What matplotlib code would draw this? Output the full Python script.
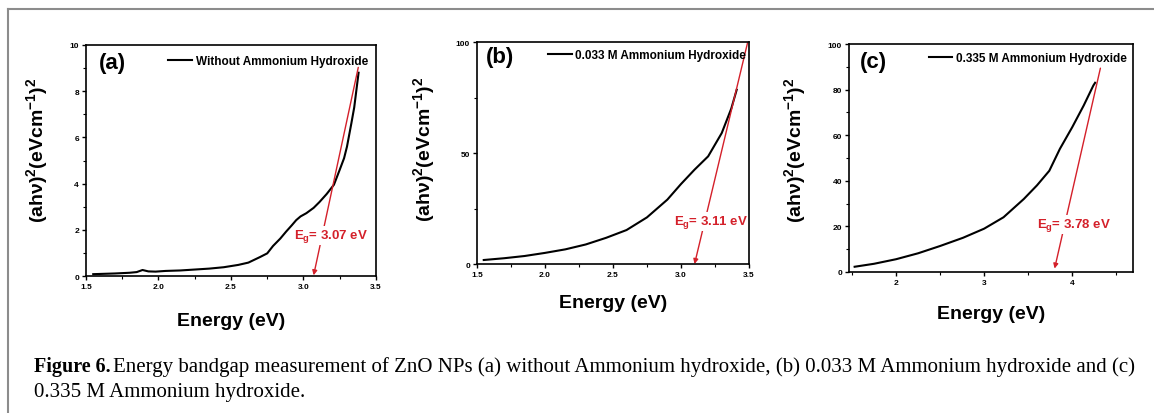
"""
Energy bandgap (Tauc) plots of ZnO NPs, three panels with a caption.
"""

import matplotlib
matplotlib.use("Agg")
import matplotlib.pyplot as plt
from matplotlib.lines import Line2D
from matplotlib.ticker import MultipleLocator, FormatStrFormatter

plt.rcParams["font.family"] = ["Liberation Sans", "DejaVu Sans"]
plt.rcParams["font.weight"] = "bold"
plt.rcParams["mathtext.fontset"] = "custom"
plt.rcParams["mathtext.rm"] = "Liberation Sans:bold"
plt.rcParams["mathtext.it"] = "Liberation Sans:bold"
plt.rcParams["mathtext.bf"] = "Liberation Sans:bold"
plt.rcParams["mathtext.default"] = "regular"

# ---- data ----
energy_a = [1.55, 1.65, 1.70, 1.80, 1.85, 1.89, 1.93, 1.98, 2.05, 2.15, 2.25, 2.35,
            2.45, 2.55, 2.62, 2.70, 2.75, 2.79, 2.84, 2.88, 2.92, 2.95, 2.98, 3.02,
            3.07, 3.11, 3.16, 3.21, 3.25, 3.28, 3.30, 3.33, 3.35, 3.37, 3.38]
tauc_a = [0.08, 0.10, 0.11, 0.14, 0.17, 0.26, 0.20, 0.19, 0.22, 0.24, 0.28, 0.32,
          0.38, 0.48, 0.58, 0.82, 0.98, 1.30, 1.62, 1.92, 2.20, 2.42, 2.58, 2.72,
          2.95, 3.20, 3.55, 3.95, 4.60, 5.10, 5.60, 6.60, 7.30, 8.30, 8.80]

energy_b = [1.55, 1.70, 1.85, 2.00, 2.15, 2.30, 2.45, 2.60, 2.75, 2.90, 3.00,
            3.10, 3.20, 3.30, 3.37, 3.41]
tauc_b = [1.8, 2.6, 3.6, 5.0, 6.6, 8.8, 11.8, 15.3, 21.0, 29.0, 36.0,
          42.5, 48.5, 59.0, 70.0, 78.5]

energy_c = [1.53, 1.75, 2.00, 2.25, 2.50, 2.76, 3.00, 3.22, 3.45, 3.60, 3.74,
            3.86, 4.00, 4.13, 4.24, 4.26]
tauc_c = [2.3, 3.6, 5.6, 8.2, 11.4, 15.0, 19.0, 24.0, 32.0, 38.0, 44.4,
          54.0, 63.5, 73.0, 81.8, 83.0]

legend_labels = ["Without Ammonium Hydroxide",
                 "0.033 M Ammonium Hydroxide",
                 "0.335 M Ammonium Hydroxide"]
panel_tags = ["(a)", "(b)", "(c)"]
bandgaps = ["3.07", "3.11", "3.78"]

# tangent (start, tip) and label spot for each panel, in data units
tangent_a = [(3.378, 9.03), (3.07, 0.03)]
tangent_b = [(3.49, 99.7), (3.10, 0.0)]
tangent_c = [(4.32, 89.4), (3.80, 1.5)]
eg_text_a = (3.19, 1.75)
eg_text_b = (3.22, 19.0)
eg_text_c = (4.02, 21.0)

RED = "#d4202a"

fig = plt.figure(figsize=(11.54, 4.14), dpi=100)

panels = [
    dict(rect=[0.0745, 0.3309, 0.2513, 0.5580], x=energy_a, y=tauc_a,
         xlim=(1.5, 3.5), ylim=(0, 10), xmaj=0.5, xmin=0.25, ymaj=2, ymin=1,
         xfmt="%.1f", tangent=tangent_a, eg=eg_text_a,
         leg=(0.972, 0.93), ylab=(-0.125, 0.55), xlab=(0.5, -0.156), tag=(0.09, 0.925)),
    dict(rect=[0.4133, 0.3599, 0.2357, 0.5362], x=energy_b, y=tauc_b,
         xlim=(1.5, 3.5), ylim=(0, 100), xmaj=0.5, xmin=0.25, ymaj=50, ymin=25,
         xfmt="%.1f", tangent=tangent_b, eg=eg_text_b,
         leg=(0.99, 0.94), ylab=(-0.147, 0.52), xlab=(0.5, -0.135), tag=(0.085, 0.935)),
    dict(rect=[0.7357, 0.3406, 0.2461, 0.5507], x=energy_c, y=tauc_c,
         xlim=(1.466, 4.69), ylim=(0, 100), xmaj=1, xmin=0.5, ymaj=20, ymin=10,
         xfmt="%d", tangent=tangent_c, eg=eg_text_c,
         leg=(0.978, 0.94), ylab=(-0.144, 0.54), xlab=(0.5, -0.145), tag=(0.085, 0.925)),
]

for i, p in enumerate(panels):
    ax = fig.add_axes(p["rect"])
    ax.plot(p["x"], p["y"], color="black", lw=1.5, label=legend_labels[i])
    ax.set_xlim(*p["xlim"])
    ax.set_ylim(*p["ylim"])
    ax.xaxis.set_major_locator(MultipleLocator(p["xmaj"]))
    ax.xaxis.set_minor_locator(MultipleLocator(p["xmin"]))
    ax.yaxis.set_major_locator(MultipleLocator(p["ymaj"]))
    ax.yaxis.set_minor_locator(MultipleLocator(p["ymin"]))
    ax.xaxis.set_major_formatter(FormatStrFormatter(p["xfmt"]))
    ax.tick_params(which="major", direction="out", length=3, width=1, labelsize=6, pad=2)
    ax.tick_params(which="minor", direction="out", length=2, width=0.8)
    for lab in ax.get_xticklabels() + ax.get_yticklabels():
        lab.set_fontweight("bold")
    for sp in ax.spines.values():
        sp.set_linewidth(1.2)
        sp.set_zorder(5)

    ax.set_xlabel("Energy (eV)", fontsize=14, fontweight="bold")
    ax.xaxis.set_label_coords(*p["xlab"])
    ax.set_ylabel(r"(ah$\nu$)$^{2}$(eVcm$^{-1}$)$^{2}$", fontsize=14, fontweight="bold")
    ax.yaxis.set_label_coords(*p["ylab"])

    ax.text(p["tag"][0], p["tag"][1], panel_tags[i], transform=ax.transAxes,
            fontsize=16, fontweight="bold", ha="center", va="center")

    ax.legend(loc="center right", bbox_to_anchor=p["leg"], frameon=False,
              handlelength=2.0, handletextpad=0.3, borderpad=0, borderaxespad=0,
              prop={"weight": "bold", "size": 8.5})

    (x0, y0), (x1, y1) = p["tangent"]
    ax.annotate("", xy=(x1, y1), xytext=(x0, y0),
                arrowprops=dict(arrowstyle="-|>", color=RED, lw=1.0,
                                mutation_scale=7, shrinkA=0, shrinkB=0),
                zorder=3)
    ax.text(p["eg"][0], p["eg"][1], r"E$_{g}$= " + bandgaps[i] + " eV", color=RED,
            fontsize=9.5, fontweight="bold", ha="center", va="center", zorder=4,
            bbox=dict(facecolor="white", edgecolor="none", pad=0.8))

# frame lines around the figure block
fig.add_artist(Line2D([8 / 1154, 8 / 1154], [0, 1 - 10 / 414], color="#8c8c8c", lw=1.5))
fig.add_artist(Line2D([8 / 1154, 1], [1 - 10 / 414, 1 - 10 / 414], color="#8c8c8c", lw=1.5))

cap_font = ["Liberation Serif", "DejaVu Serif"]
fig.text(34 / 1154, 1 - 367 / 414, "Figure 6.", fontsize=14.5, fontweight="bold",
         family=cap_font, va="center", ha="left")
fig.text(113 / 1154, 1 - 367 / 414,
         "Energy bandgap measurement of ZnO NPs (a) without Ammonium hydroxide, "
         "(b) 0.033 M Ammonium hydroxide and (c)",
         fontsize=15, fontweight="normal", family=cap_font, va="center", ha="left")
fig.text(34 / 1154, 1 - 393 / 414, "0.335 M Ammonium hydroxide.", fontsize=15,
         fontweight="normal", family=cap_font, va="center", ha="left")

fig.savefig("out.png", dpi=100)
